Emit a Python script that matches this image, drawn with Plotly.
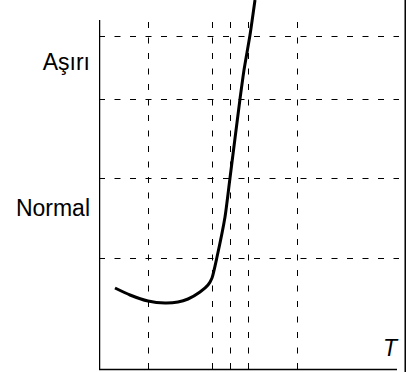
import plotly.graph_objects as go

# Curve (T vs value)
curve_t = [16, 31, 49, 66, 79, 89, 101, 109, 113, 118, 126, 131, 141, 145, 151, 156]
curve_v = [81, 74, 68, 66, 67, 70, 77, 84, 91, 112, 152, 191, 270, 299, 334, 369]

# Dashed reference lines
grid_t = [49.5, 113.5, 131.5, 149.5, 198.5]
grid_v = [110.5, 190.5, 269.5, 332.5]

# Y-axis category labels
label_pos = [307.5, 161.3]
label_text = ["Aşırı", "Normal"]
x_label = "T"

X_MAX = 307
Y_MIN = -3
Y_MAX = 369
AXIS_TOP = 349
GRID_RIGHT = 300
AXIS_RIGHT = 298

fig = go.Figure()
fig.add_trace(go.Scatter(
    x=curve_t, y=curve_v, mode="lines",
    line=dict(color="black", width=3, shape="spline", smoothing=0.6),
    showlegend=False, hoverinfo="skip",
))

dash = "6px,9.5px"
shapes = []
for t in grid_t:
    shapes.append(dict(type="line", xref="x", yref="y", x0=t, x1=t, y0=0, y1=AXIS_TOP,
                       line=dict(color="black", width=1, dash=dash), layer="below"))
for v in grid_v:
    shapes.append(dict(type="line", xref="x", yref="y", x0=0, x1=GRID_RIGHT, y0=v, y1=v,
                       line=dict(color="black", width=1, dash=dash), layer="below"))
# axes
shapes.append(dict(type="line", xref="x", yref="y", x0=0.5, x1=0.5, y0=-0.5, y1=AXIS_TOP,
                   line=dict(color="black", width=1.5)))
shapes.append(dict(type="line", xref="x", yref="y", x0=0, x1=AXIS_RIGHT, y0=-0.5, y1=-0.5,
                   line=dict(color="black", width=1.5)))
# right border of the picture
shapes.append(dict(type="line", xref="paper", yref="paper", x0=0.9975, x1=0.9975, y0=0, y1=1,
                   line=dict(color="black", width=1.5)))

fig.update_layout(
    width=406, height=372,
    margin=dict(l=99, r=0, t=0, b=0),
    paper_bgcolor="white", plot_bgcolor="white",
    shapes=shapes,
    font=dict(family="Arial, Liberation Sans, sans-serif", size=23, color="black"),
    xaxis=dict(range=[0, X_MAX], showgrid=False, zeroline=False, showticklabels=False,
               showline=False, fixedrange=True),
    yaxis=dict(range=[Y_MIN, Y_MAX], showgrid=False, zeroline=False, showline=False,
               tickvals=label_pos, ticktext=label_text, ticks="", automargin=False,
               ticklabelstandoff=8, tickfont=dict(size=23), fixedrange=True),
    annotations=[dict(x=291.5, y=21, xref="x", yref="y", text=x_label, showarrow=False,
                      font=dict(size=23, style="italic"), xanchor="center", yanchor="middle")],
)

fig.write_html("out.html", config={"displayModeBar": False},
               post_script="document.body.style.margin='0px';document.body.style.overflow='hidden';")
